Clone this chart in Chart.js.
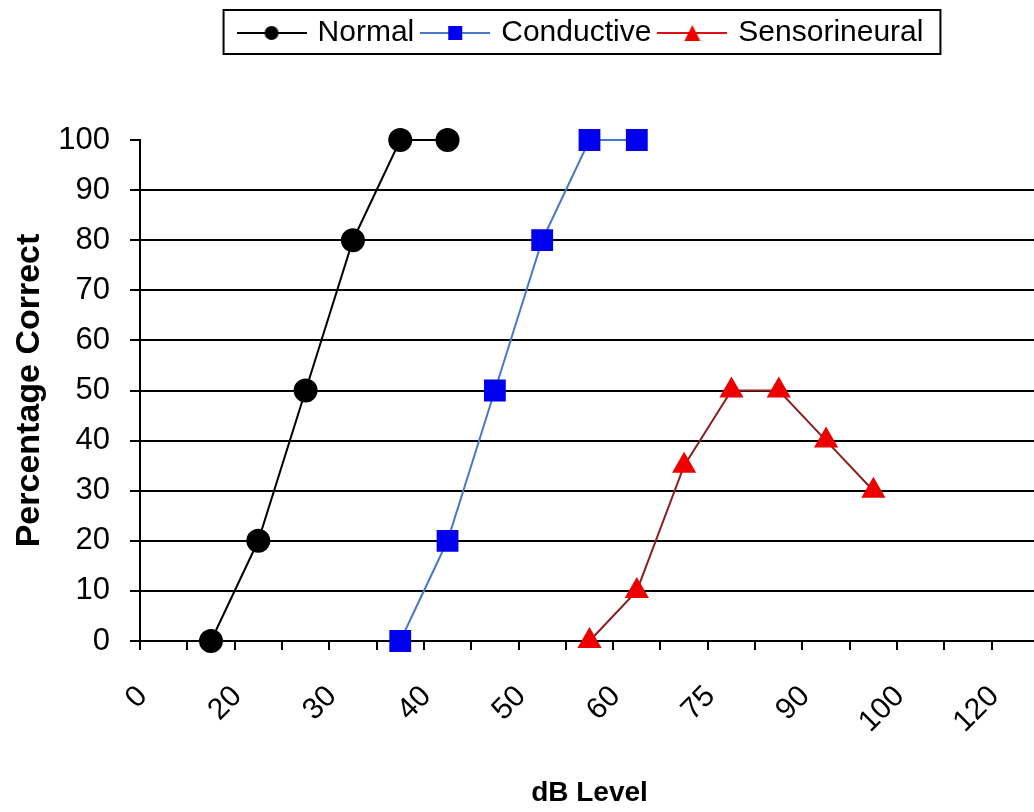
<!DOCTYPE html>
<html>
<head>
<meta charset="utf-8">
<title>Percentage Correct by dB Level</title>
<script src="https://cdn.jsdelivr.net/npm/chart.js@4/dist/chart.umd.min.js"></script>
<style>
  html, body { margin: 0; padding: 0; background: #fff; overflow: hidden; }
  /* the plot runs on past the right edge of the window */
  #wrap { width: 1055px; height: 812px; }
</style>
</head>
<body>
<div id="wrap"><canvas id="chart"></canvas></div>
<script>
// dB levels along the category axis; only every other one carries a label
const dbLevels = ["0", "", "20", "", "30", "", "40", "", "50", "", "60", "", "75", "", "90", "", "100", "", "120"];

// percentage correct per level (null = not tested)
const normal = [null, 0, 20, 50, 80, 100, 100, null, null, null, null, null, null, null, null, null, null, null, null];
const conductive = [null, null, null, null, null, 0, 20, 50, 80, 100, 100, null, null, null, null, null, null, null, null];
const sensorineural = [null, null, null, null, null, null, null, null, null, 0, 10, 35, 50, 50, 40, 30, null, null, null];

const FONT = "'Liberation Sans', Arial, sans-serif";

// line + marker sample for the legend, like "—●—"
function legendIcon(fill, line, shape) {
  const c = document.createElement("canvas");
  c.width = 70;
  c.height = 20;
  const g = c.getContext("2d");
  g.strokeStyle = line;
  g.lineWidth = 2;
  g.beginPath();
  g.moveTo(0, 10);
  g.lineTo(70, 10);
  g.stroke();
  g.fillStyle = fill;
  g.beginPath();
  if (shape === "circle") {
    g.arc(35, 10, 7, 0, Math.PI * 2);
  } else if (shape === "rect") {
    g.rect(28, 3, 14, 14);
  } else {
    g.moveTo(35, 2);
    g.lineTo(43, 18);
    g.lineTo(27, 18);
    g.closePath();
  }
  g.fill();
  return c;
}

const icons = [
  legendIcon("#000", "#000", "circle"),
  legendIcon("#0000ee", "#4a78c8", "rect"),
  legendIcon("#ee0000", "#dd1111", "triangle"),
];

function legendSpan(boxes) {
  const left = Math.min(...boxes.map((b) => b.left));
  const right = Math.max(...boxes.map((b) => b.left + b.width));
  return { left, right };
}

// framed legend, pushed to the right a little and with room below it
const legendFrame = {
  id: "legendFrame",
  beforeInit(chart) {
    const fit = chart.legend.fit;
    chart.legend.fit = function () {
      fit.call(this);
      this.height += 82;
    };
  },
  // runs after the legend plugin has placed its hit boxes
  afterUpdate(chart) {
    const lg = chart.legend;
    const { left, right } = legendSpan(lg.legendHitBoxes);
    const dx = Math.round(582 - (left + right) / 2);
    lg.left += dx;
    lg.right += dx;
    lg.legendHitBoxes.forEach((b) => (b.left += dx));
  },
  afterDraw(chart) {
    const boxes = chart.legend.legendHitBoxes;
    const { left, right } = legendSpan(boxes);
    const top = boxes[0].top;
    const ctx = chart.ctx;
    ctx.save();
    ctx.strokeStyle = "#000";
    ctx.lineWidth = 2;
    ctx.strokeRect(left - 17, top - 8, right - left + 34, 44);
    ctx.restore();
  },
};

new Chart(document.getElementById("chart"), {
  type: "line",
  data: {
    labels: dbLevels,
    datasets: [
      {
        label: "Normal",
        data: normal,
        borderColor: "#000",
        backgroundColor: "#000",
        borderWidth: 2,
        pointStyle: "circle",
        pointRadius: 11,
      },
      {
        label: "Conductive",
        data: conductive,
        borderColor: "#4a78c8",
        backgroundColor: "#0000ee",
        pointBorderColor: "#0000ee",
        borderWidth: 2,
        pointStyle: "rect",
        pointRadius: 14,
      },
      {
        label: "Sensorineural",
        data: sensorineural,
        borderColor: "#8a2020",
        backgroundColor: "#ee0000",
        pointBorderColor: "#ee0000",
        borderWidth: 2,
        pointStyle: "triangle",
        pointRadius: 12,
      },
    ],
  },
  options: {
    responsive: true,
    maintainAspectRatio: false,
    animation: false,
    events: [],
    clip: false,
    layout: { padding: { left: 6, right: 1, top: 8, bottom: 2 } },
    plugins: {
      tooltip: { enabled: false },
      legend: {
        position: "top",
        labels: {
          usePointStyle: true,
          pointStyleWidth: 62,
          color: "#000",
          padding: 10,
          font: { family: FONT, size: 30 },
          generateLabels(chart) {
            const items = Chart.defaults.plugins.legend.labels.generateLabels(chart);
            items.forEach((it, i) => (it.pointStyle = icons[i]));
            return items;
          },
        },
      },
    },
    scales: {
      x: {
        offset: true,
        // fixed band under the plot, and no side padding for the rotated labels
        afterFit(scale) {
          scale.paddingLeft = 0;
          scale.paddingRight = 0;
          scale.height = 169;
        },
        ticks: {
          autoSkip: false,
          minRotation: 45,
          maxRotation: 45,
          color: "#000",
          padding: 29,
          labelOffset: -21,
          font: { family: FONT, size: 30 },
        },
        grid: {
          offset: true,
          drawOnChartArea: false,
          tickLength: 9,
          lineWidth: 2,
          color: "#000",
          tickColor: "#000",
        },
        border: { color: "#000", width: 2 },
        title: {
          display: true,
          text: "dB Level",
          color: "#000",
          font: { family: FONT, size: 28, weight: "bold" },
          padding: { top: 10, bottom: 0 },
        },
      },
      y: {
        min: 0,
        max: 100,
        afterFit(scale) {
          scale.width = 134;
        },
        ticks: {
          stepSize: 10,
          color: "#000",
          padding: 20,
          font: { family: FONT, size: 31 },
        },
        grid: {
          color: (ctx) => (ctx.tick && ctx.tick.value === 100 ? "rgba(0,0,0,0)" : "#000"),
          tickColor: "#000",
          lineWidth: 2,
          tickLength: 10,
        },
        border: { color: "#000", width: 2 },
        title: {
          display: true,
          text: "Percentage Correct",
          color: "#000",
          font: { family: FONT, size: 34, weight: "bold" },
          padding: { top: 3, bottom: 0 },
        },
      },
    },
  },
  plugins: [legendFrame],
});
</script>
</body>
</html>
